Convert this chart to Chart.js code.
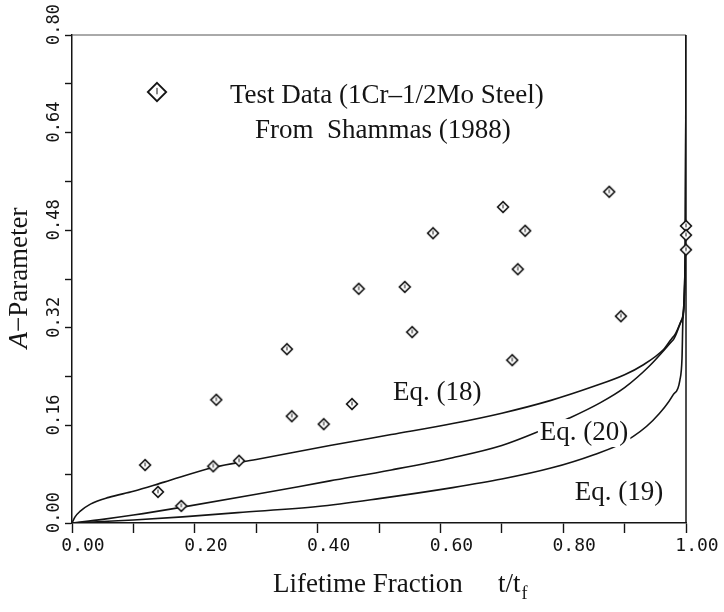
<!DOCTYPE html>
<html>
<head>
<meta charset="utf-8">
<script src="https://cdn.jsdelivr.net/npm/chart.js@4.4.1/dist/chart.umd.min.js"></script>
<style>
  html, body { margin: 0; padding: 0; background: #fff; }
</style>
</head>
<body>
<canvas id="chart" width="724" height="612"></canvas>
<script>
// Test data (1Cr-1/2Mo steel), Shammas 1988
const testX = [0.119, 0.140, 0.178, 0.230, 0.235, 0.272, 0.350, 0.358, 0.410, 0.456, 0.467, 0.542, 0.554, 0.588, 0.702, 0.717, 0.726, 0.738, 0.875, 0.894, 1.0, 1.0, 1.0];
const testY = [0.095, 0.051, 0.028, 0.093, 0.202, 0.102, 0.285, 0.175, 0.162, 0.195, 0.384, 0.387, 0.313, 0.475, 0.518, 0.267, 0.416, 0.479, 0.543, 0.339, 0.487, 0.472, 0.448];

// model curves
const eq18X = [0, 0.005, 0.013, 0.03, 0.06, 0.10, 0.15, 0.23, 0.30, 0.42, 0.52, 0.62, 0.70, 0.78, 0.85, 0.90, 0.93, 0.963, 0.98, 0.993, 0.999, 1.0];
const eq18Y = [0, 0.010, 0.019, 0.031, 0.042, 0.052, 0.067, 0.091, 0.104, 0.127, 0.145, 0.163, 0.180, 0.201, 0.224, 0.243, 0.259, 0.284, 0.306, 0.333, 0.45, 0.8];

const eq20X = [0, 0.05, 0.10, 0.18, 0.30, 0.42, 0.52, 0.62, 0.70, 0.76, 0.81, 0.86, 0.90, 0.94, 0.979, 0.993, 0.999, 1.0];
const eq20Y = [0, 0.006, 0.013, 0.026, 0.047, 0.069, 0.087, 0.107, 0.127, 0.150, 0.172, 0.197, 0.222, 0.257, 0.300, 0.333, 0.45, 0.8];

const eq19X = [0, 0.10, 0.18, 0.27, 0.40, 0.50, 0.62, 0.70, 0.78, 0.85, 0.90, 0.946, 0.979, 0.99, 0.9935, 0.995, 0.999, 1.0];
const eq19Y = [0, 0.005, 0.010, 0.017, 0.027, 0.040, 0.058, 0.072, 0.090, 0.112, 0.133, 0.168, 0.210, 0.234, 0.27, 0.333, 0.45, 0.8];

const curveLabels = ['Eq. (18)', 'Eq. (20)', 'Eq. (19)'];
const xTickLabels = ['0.00', '0.20', '0.40', '0.60', '0.80', '1.00'];
const yTickLabels = ['0.00', '0.16', '0.32', '0.48', '0.64', '0.80'];

const ink = '#141414';
const serif = '"Liberation Serif", "Times New Roman", serif';
const mono = '"DejaVu Sans Mono", monospace';

function makeDiamond(size, lw) {
  const c = document.createElement('canvas');
  c.width = c.height = size;
  const g = c.getContext('2d');
  const m = size / 2, r = m - lw;
  g.beginPath();
  g.moveTo(m, m - r); g.lineTo(m + r, m); g.lineTo(m, m + r); g.lineTo(m - r, m);
  g.closePath();
  g.fillStyle = '#fff'; g.fill();
  g.lineWidth = lw; g.strokeStyle = ink; g.stroke();
  // little mark inside
  g.beginPath();
  g.moveTo(m, m - r * 0.45); g.lineTo(m, m + r * 0.25);
  g.lineWidth = 1; g.stroke();
  return c;
}

const diamond = makeDiamond(14, 1.6);
const bigDiamond = makeDiamond(22, 1.8);

const toPts = (xs, ys) => xs.map((x, i) => ({ x, y: ys[i] }));

function curve(label, xs, ys) {
  return {
    label,
    data: toPts(xs, ys),
    showLine: true,
    borderColor: ink,
    borderWidth: 1.6,
    pointRadius: 0,
    pointHoverRadius: 0,
    cubicInterpolationMode: 'monotone',
    order: 1
  };
}

// labels positions (data coords, left / baseline)
const labelPos = [[0.523, 0.202], [0.762, 0.136], [0.819, 0.038]];

const decorations = {
  id: 'decorations',
  beforeDatasetsDraw(chart) {
    const { ctx, chartArea: a } = chart;
    ctx.save();
    ctx.strokeStyle = ink;
    ctx.lineWidth = 1.5;
    ctx.beginPath(); ctx.moveTo(a.right, a.bottom); ctx.lineTo(a.right, a.top); ctx.stroke();
    ctx.strokeStyle = '#555';
    ctx.lineWidth = 1;
    ctx.beginPath(); ctx.moveTo(a.left, a.top); ctx.lineTo(a.right, a.top); ctx.stroke();
    ctx.restore();
  },
  afterDatasetsDraw(chart) {
    const { ctx } = chart;
    const xs = chart.scales.x, ys = chart.scales.y;
    ctx.save();
    ctx.font = '27px ' + serif;
    ctx.textBaseline = 'alphabetic';
    curveLabels.forEach((t, i) => {
      const px = xs.getPixelForValue(labelPos[i][0]);
      const py = ys.getPixelForValue(labelPos[i][1]);
      const w = ctx.measureText(t).width;
      ctx.fillStyle = '#fff';
      ctx.fillRect(px - 2, py - 21, w + 4, 28);
      ctx.fillStyle = ink;
      ctx.fillText(t, px, py);
    });
    ctx.restore();
  },
  afterDraw(chart) {
    const { ctx } = chart;
    ctx.save();
    ctx.fillStyle = ink;
    ctx.textBaseline = 'alphabetic';

    // legend
    ctx.drawImage(bigDiamond, 157 - 11, 92 - 11);
    ctx.font = '27px ' + serif;
    ctx.fillText('Test Data (1Cr\u20131/2Mo Steel)', 230, 103);
    ctx.fillText('From  Shammas (1988)', 255, 138);

    // x title
    ctx.fillText('Lifetime Fraction', 273, 592);
    ctx.fillText('t/t', 498, 592);
    const tw = ctx.measureText('t/t').width;
    ctx.font = '18px ' + serif;
    ctx.fillText('f', 498 + tw + 1, 599);

    // y title
    ctx.translate(27, 278);
    ctx.rotate(-Math.PI / 2);
    ctx.font = 'italic 27px ' + serif;
    const wa = ctx.measureText('A').width;
    ctx.font = '27px ' + serif;
    const wr = ctx.measureText('\u2212Parameter').width;
    const x0 = -(wa + wr) / 2;
    ctx.font = 'italic 27px ' + serif;
    ctx.fillText('A', x0, 0);
    ctx.font = '27px ' + serif;
    ctx.fillText('\u2212Parameter', x0 + wa, 0);
    ctx.restore();
  }
};

new Chart(document.getElementById('chart'), {
  type: 'scatter',
  data: {
    datasets: [
      {
        label: 'Test Data',
        data: toPts(testX, testY),
        pointStyle: diamond,
        pointRadius: 6,
        pointHoverRadius: 6,
        clip: false,
        order: 0
      },
      curve(curveLabels[0], eq18X, eq18Y),
      curve(curveLabels[1], eq20X, eq20Y),
      curve(curveLabels[2], eq19X, eq19Y)
    ]
  },
  options: {
    responsive: false,
    animation: false,
    layout: { padding: { left: 0, top: 35, right: 38, bottom: 0 } },
    plugins: {
      legend: { display: false },
      tooltip: { enabled: false }
    },
    scales: {
      x: {
        type: 'linear',
        min: 0,
        max: 1,
        afterFit: s => { s.height = 89; },
        border: { color: ink, width: 1.5 },
        grid: { drawOnChartArea: false, tickLength: 10, tickColor: ink, tickWidth: 1.4 },
        ticks: {
          stepSize: 0.1,
          autoSkip: false,
          maxRotation: 0,
          padding: 3,
          labelOffset: 11,
          color: ink,
          font: { family: mono, size: 18 },
          callback: v => {
            const k = Math.round(v * 10);
            return k % 2 === 0 ? xTickLabels[k / 2] : '';
          }
        }
      },
      y: {
        min: 0,
        max: 0.8,
        afterFit: s => { s.width = 72; },
        border: { color: ink, width: 1.5 },
        grid: { drawOnChartArea: false, tickLength: 7, tickColor: ink, tickWidth: 1.4 },
        ticks: {
          stepSize: 0.08,
          autoSkip: false,
          minRotation: 90,
          maxRotation: 90,
          padding: 10,
          labelOffset: -31,
          color: ink,
          font: { family: mono, size: 17 },
          callback: v => {
            const k = Math.round(v / 0.08);
            return k % 2 === 0 ? yTickLabels[k / 2] : '';
          }
        }
      }
    }
  },
  plugins: [decorations]
});
</script>
</body>
</html>
